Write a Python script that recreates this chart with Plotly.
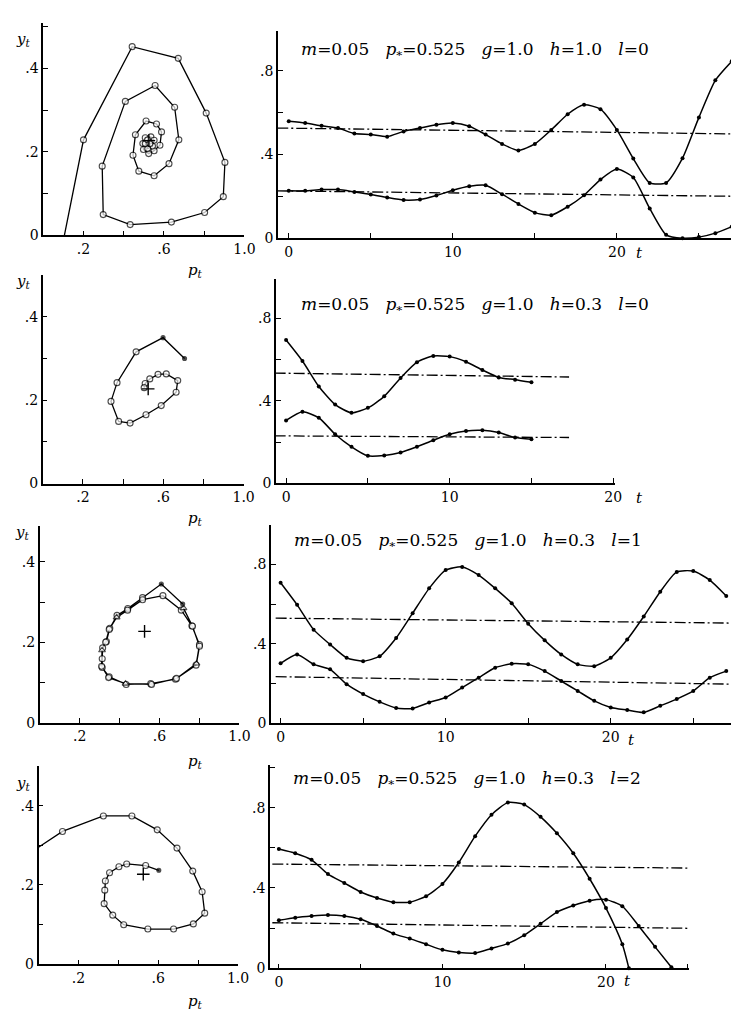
import plotly.graph_objects as go

W, H = 739, 1010

# ---------------- data: time series (t, p_t upper curve, y_t lower curve) ----------------
t1 = list(range(28))
p1 = [0.558, 0.55, 0.537, 0.526, 0.50, 0.495, 0.485, 0.51, 0.526, 0.542, 0.55, 0.535, 0.495, 0.45,
      0.419, 0.45, 0.517, 0.592, 0.637, 0.616, 0.517, 0.38, 0.264, 0.264, 0.382, 0.577, 0.754, 0.845]
y1 = [0.226, 0.226, 0.232, 0.232, 0.221, 0.209, 0.194, 0.182, 0.185, 0.204, 0.229, 0.248, 0.253, 0.21,
      0.163, 0.122, 0.11, 0.15, 0.205, 0.28, 0.33, 0.29, 0.142, 0.016, 0.0, 0.005, 0.024, 0.055]

t2 = list(range(16))
p2 = [0.696, 0.594, 0.47, 0.382, 0.342, 0.366, 0.422, 0.511, 0.588, 0.618, 0.615, 0.59, 0.55, 0.514, 0.503, 0.49]
y2 = [0.305, 0.347, 0.318, 0.238, 0.177, 0.133, 0.135, 0.149, 0.177, 0.209, 0.238, 0.254, 0.257, 0.246, 0.222, 0.214]

t3 = list(range(28))
p3 = [0.708, 0.597, 0.472, 0.397, 0.33, 0.313, 0.338, 0.43, 0.555, 0.68, 0.772, 0.788, 0.747, 0.68,
      0.605, 0.502, 0.418, 0.347, 0.297, 0.288, 0.33, 0.422, 0.538, 0.663, 0.763, 0.767, 0.722, 0.642]
y3 = [0.302, 0.347, 0.297, 0.272, 0.197, 0.147, 0.108, 0.077, 0.075, 0.105, 0.13, 0.18, 0.23, 0.28,
      0.30, 0.297, 0.263, 0.213, 0.163, 0.113, 0.08, 0.067, 0.055, 0.088, 0.122, 0.163, 0.23, 0.263]

t4p = list(range(22)) + [21.4]
p4 = [0.594, 0.573, 0.54, 0.469, 0.425, 0.38, 0.35, 0.329, 0.329, 0.359, 0.42, 0.527, 0.658, 0.765,
      0.825, 0.815, 0.754, 0.672, 0.573, 0.446, 0.30, 0.12, 0.0]
t4y = list(range(25))
y4 = [0.239, 0.252, 0.26, 0.265, 0.26, 0.244, 0.211, 0.173, 0.148, 0.12, 0.092, 0.079, 0.076, 0.099,
      0.123, 0.165, 0.222, 0.28, 0.313, 0.337, 0.342, 0.309, 0.211, 0.107, 0.005]

# equilibrium (dash-dot) lines: t start/end, p* start/end, y* start/end
eq1 = dict(t=[-0.7, 27.2], p=[0.526, 0.498], y=[0.226, 0.20])
eq2 = dict(t=[-0.7, 17.3], p=[0.535, 0.516], y=[0.23, 0.222])
eq3 = dict(t=[-0.3, 27.5], p=[0.53, 0.505], y=[0.235, 0.197])
eq4 = dict(t=[-0.4, 25.3], p=[0.519, 0.499], y=[0.227, 0.199])

# ---------------- data: phase plots (p_t, y_t) ----------------
ph1_p = [0.105, 0.2, 0.442, 0.671, 0.81, 0.903, 0.895, 0.802, 0.637, 0.432, 0.298, 0.293, 0.408, 0.556,
         0.653, 0.674, 0.625, 0.551, 0.475, 0.446, 0.458, 0.511, 0.563, 0.588, 0.58, 0.551, 0.524, 0.498,
         0.495, 0.507, 0.535, 0.551, 0.543, 0.519, 0.507, 0.519, 0.53]
ph1_y = [0.0, 0.229, 0.452, 0.424, 0.293, 0.175, 0.093, 0.055, 0.032, 0.026, 0.05, 0.166, 0.321, 0.359,
         0.307, 0.229, 0.172, 0.143, 0.154, 0.192, 0.241, 0.274, 0.267, 0.248, 0.216, 0.203, 0.196, 0.206,
         0.22, 0.234, 0.236, 0.228, 0.214, 0.208, 0.22, 0.229, 0.22]

ph2_p = [0.706, 0.599, 0.465, 0.37, 0.34, 0.378, 0.435, 0.514, 0.59, 0.664, 0.672, 0.615, 0.574, 0.533, 0.51, 0.505]
ph2_y = [0.30, 0.35, 0.316, 0.242, 0.197, 0.149, 0.145, 0.165, 0.187, 0.219, 0.247, 0.263, 0.262, 0.251, 0.24, 0.23]

ph3_p = [0.716, 0.609, 0.515, 0.441, 0.387, 0.351, 0.334, 0.315, 0.313, 0.313, 0.348, 0.433, 0.556, 0.68,
         0.783, 0.8, 0.762, 0.709, 0.617, 0.515, 0.44, 0.385, 0.348, 0.33, 0.312, 0.31, 0.345, 0.43, 0.56,
         0.685, 0.785, 0.8, 0.765, 0.72]
ph3_y = [0.295, 0.345, 0.311, 0.284, 0.267, 0.235, 0.202, 0.186, 0.159, 0.137, 0.114, 0.095, 0.097, 0.108,
         0.143, 0.194, 0.241, 0.28, 0.316, 0.306, 0.28, 0.262, 0.232, 0.2, 0.18, 0.14, 0.112, 0.097, 0.095,
         0.11, 0.147, 0.19, 0.24, 0.285]

ph4_p = [0.0, 0.12, 0.325, 0.468, 0.595, 0.694, 0.773, 0.82, 0.833, 0.776, 0.677, 0.548, 0.427, 0.372,
         0.329, 0.332, 0.335, 0.356, 0.403, 0.442, 0.537, 0.603]
ph4_y = [0.295, 0.335, 0.374, 0.374, 0.339, 0.293, 0.235, 0.183, 0.129, 0.102, 0.089, 0.089, 0.1, 0.124,
         0.153, 0.187, 0.21, 0.231, 0.246, 0.253, 0.249, 0.237]

equilibrium_point = (0.525, 0.227)

titles = [
    ("0.05", "0.525", "1.0", "1.0", "0"),
    ("0.05", "0.525", "1.0", "0.3", "0"),
    ("0.05", "0.525", "1.0", "0.3", "1"),
    ("0.05", "0.525", "1.0", "0.3", "2"),
]

phase_tickvals_x = [0.2, 0.6, 1.0]
phase_ticktext_x = [".2", ".6", "1.0"]
phase_tickvals_y = [0, 0.2, 0.4]
phase_ticktext_y = ["0", ".2", ".4"]
ts_tickvals_y = [0, 0.4, 0.8]
ts_ticktext_y = ["0", ".4", ".8"]
ts_tickvals_x = [0, 10, 20]
ts_ticktext_x = ["0", "10", "20"]

# ---------------- layout geometry (pixels) ----------------
left_geo = [
    (35.8, 240.0, 229.3, 15.4, 0.508),
    (35.2, 239.2, 479.3, 269.3, 0.50),
    (32.2, 234.9, 720.3, 521.9, 0.49),
    (31.0, 233.5, 964.0, 764.0, 0.50),
]
right_geo = [
    (274.0, 738.0, -0.66, 27.2, 232.0, 23.1, 0.99),
    (272.0, 615.7, -0.62, 20.08, 479.0, 273.6, 0.99),
    (267.0, 737.5, -0.58, 27.5, 721.0, 521.0, 1.0),
    (266.0, 691.7, -0.54, 25.1, 968.0, 763.5, 1.01),
]

FONT = "DejaVu Serif, Liberation Serif, serif"
BLACK = "black"


def px(x):
    return x / W


def py(y):
    return (H - y) / H


def axis_style(minor_dtick, **kw):
    d = dict(showline=True, linecolor=BLACK, linewidth=1.6, ticks="inside", ticklen=5, tickwidth=1.3,
             tickcolor=BLACK, showgrid=False, zeroline=False, mirror=False,
             tickfont=dict(family=FONT, size=14, color=BLACK), fixedrange=True,
             minor=dict(ticks="inside", dtick=minor_dtick, tick0=0, ticklen=5, tickwidth=1.3,
                        tickcolor=BLACK, showgrid=False))
    d.update(kw)
    return d


fig = go.Figure()
layout = {}

phase_data = [(ph1_p, ph1_y), (ph2_p, ph2_y), (ph3_p, ph3_y), (ph4_p, ph4_y)]
ts_data = [
    ((t1, p1), (t1, y1), eq1),
    ((t2, p2), (t2, y2), eq2),
    ((t3, p3), (t3, y3), eq3),
    ((t4p, p4), (t4y, y4), eq4),
]

for i in range(4):
    li = 2 * i + 1
    ri = 2 * i + 2
    lx = "x" if li == 1 else f"x{li}"
    ly = "y" if li == 1 else f"y{li}"
    rx, ry = f"x{ri}", f"y{ri}"
    lxk = "xaxis" if li == 1 else f"xaxis{li}"
    lyk = "yaxis" if li == 1 else f"yaxis{li}"
    rxk, ryk = f"xaxis{ri}", f"yaxis{ri}"

    x0, x1, yb, yt, ymax = left_geo[i]
    layout[lxk] = axis_style(0.2, domain=[px(x0), px(x1)], range=[0, 1.0], anchor=ly,
                             tickvals=phase_tickvals_x, ticktext=phase_ticktext_x)
    layout[lyk] = axis_style(0.1, domain=[py(yb), py(yt)], range=[0, ymax], anchor=lx,
                             tickvals=phase_tickvals_y, ticktext=phase_ticktext_y)

    rx0, rx1, tmin, tmax, ryb, ryt, rymax = right_geo[i]
    layout[rxk] = axis_style(5, domain=[px(rx0), px(rx1)], range=[tmin, tmax], anchor=ry,
                             tickvals=ts_tickvals_x, ticktext=ts_ticktext_x)
    layout[ryk] = axis_style(0.2, domain=[py(ryb), py(ryt)], range=[0, rymax], anchor=rx,
                             tickvals=ts_tickvals_y, ticktext=ts_ticktext_y)

    # ---- phase trajectory ----
    pp, yy = phase_data[i]
    n = len(pp)
    sizes = [6] * n
    colors = ["white"] * n
    symbols = ["circle"] * n
    if i == 0:
        sizes[0] = 0
    elif i == 1:
        for k in (0, 1):
            sizes[k] = 4
            colors[k] = BLACK
    elif i == 2:
        for k in (0, 1):
            sizes[k] = 4
            colors[k] = BLACK
        for k in range(19, n):
            symbols[k] = "triangle-up" if k % 3 == 0 else "circle"
    elif i == 3:
        sizes[0] = 0
        sizes[-1] = 4
        colors[-1] = BLACK
    fig.add_trace(go.Scatter(
        x=pp, y=yy, xaxis=lx, yaxis=ly, mode="lines+markers",
        line=dict(color=BLACK, width=1.3),
        marker=dict(size=sizes, color=colors, symbol=symbols, line=dict(color=BLACK, width=1.1)),
        cliponaxis=False, hoverinfo="skip"))
    fig.add_trace(go.Scatter(
        x=[equilibrium_point[0]], y=[equilibrium_point[1]], xaxis=lx, yaxis=ly, mode="markers",
        marker=dict(symbol="cross-thin", size=9, line=dict(color=BLACK, width=1.4)),
        hoverinfo="skip"))

    # ---- time series ----
    (tp, vp), (tyy, vy), eq = ts_data[i]
    for tt, vv in ((tp, vp), (tyy, vy)):
        fig.add_trace(go.Scatter(
            x=tt, y=vv, xaxis=rx, yaxis=ry, mode="lines+markers",
            line=dict(color=BLACK, width=1.5, shape="spline", smoothing=0.6),
            marker=dict(size=4, color=BLACK), cliponaxis=False, hoverinfo="skip"))
    for key in ("p", "y"):
        fig.add_trace(go.Scatter(
            x=eq["t"], y=eq[key], xaxis=rx, yaxis=ry, mode="lines",
            line=dict(color=BLACK, width=1.3, dash="11px,3px,2px,3px"),
            cliponaxis=False, hoverinfo="skip"))

# ---------------- annotations ----------------
ann = []
title_pos = [(295, 43), (295, 300), (288, 538), (287, 778)]
sp = "&nbsp;&nbsp;&nbsp;"
for (m, ps, g, h, l), (tx, ty) in zip(titles, title_pos):
    txt = (f"<i>m</i>={m}{sp}<i>p</i><sub>*</sub>={ps}{sp}<i>g</i>={g}"
           f"{sp}<i>h</i>={h}{sp}<i>l</i>={l}")
    ann.append(dict(x=px(tx), y=py(ty), xref="paper", yref="paper", text=txt, showarrow=False,
                    xanchor="left", yanchor="middle", font=dict(family=FONT, size=17, color=BLACK)))

ylab_pos = [(15, 32), (15, 276), (14, 529), (15, 782)]
for (tx, ty) in ylab_pos:
    ann.append(dict(x=px(tx), y=py(ty), xref="paper", yref="paper", text="<i>y<sub>t</sub></i>",
                    showarrow=False, xanchor="center", yanchor="middle",
                    font=dict(family=FONT, size=15, color=BLACK)))

plab_pos = [(190, 265), (190, 515), (190, 760), (190, 1001)]
for (tx, ty) in plab_pos:
    ann.append(dict(x=px(tx), y=py(ty), xref="paper", yref="paper", text="<i>p<sub>t</sub></i>",
                    showarrow=False, xanchor="center", yanchor="middle",
                    font=dict(family=FONT, size=15, color=BLACK)))

tlab_pos = [(641, 247), (641, 494), (633, 738), (629, 981)]
for (tx, ty) in tlab_pos:
    ann.append(dict(x=px(tx), y=py(ty), xref="paper", yref="paper", text="<i>t</i>",
                    showarrow=False, xanchor="center", yanchor="middle",
                    font=dict(family=FONT, size=15, color=BLACK)))

layout.update(dict(
    width=W, height=H, margin=dict(l=0, r=0, t=0, b=0), showlegend=False,
    plot_bgcolor="white", paper_bgcolor="white", annotations=ann,
    font=dict(family=FONT, color=BLACK)))
fig.update_layout(**layout)

fig.write_html("out.html")
